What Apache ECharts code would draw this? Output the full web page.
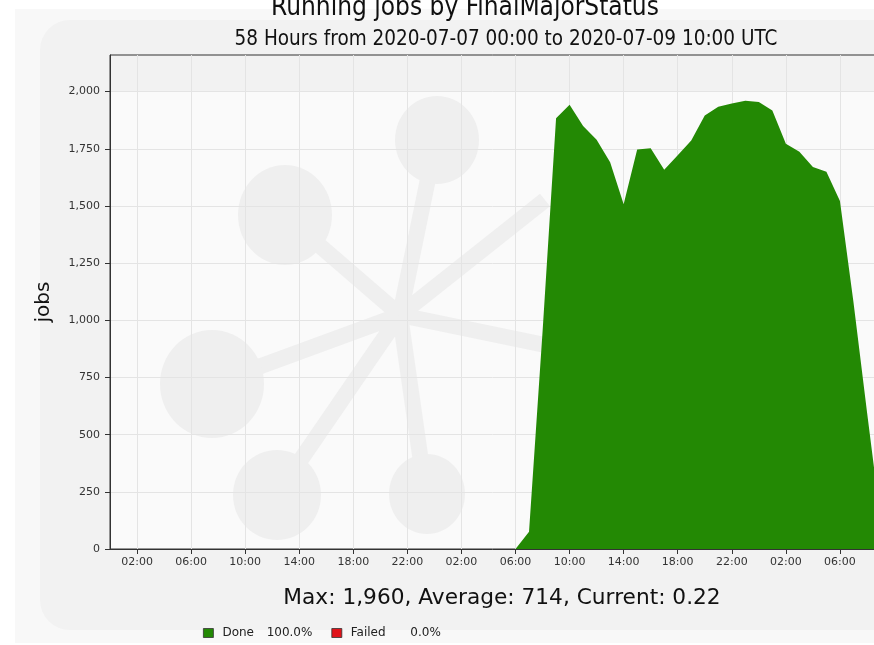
<!DOCTYPE html>
<html>
<head>
<meta charset="utf-8">
<script src="https://cdn.jsdelivr.net/npm/echarts@6/dist/echarts.min.js"></script>
<style>
    html, body { margin: 0; padding: 0; background: #fff; }
    #chart { width: 874px; height: 645px; }
</style>
</head>
<body>
<div id="chart"></div>
<script>
    // hourly bins from 2020-07-07 00:00 to 2020-07-09 10:00 UTC
    var startTime = Date.UTC( 2020, 6, 7, 0, 0 );
    var hourLabels = [];
    for ( var i = 0; i <= 58; i++ ) {
        hourLabels.push( new Date( startTime + i * 3600000 ).toISOString().slice( 0, 16 ).replace( 'T', ' ' ) );
    }

    var doneJobs = [
        0, 0, 0, 0, 0, 0, 0, 0, 0, 0,
        0, 0, 0, 0, 0, 0, 0, 0, 0, 0,
        0, 0, 0, 0, 0, 0, 0, 0, 0, 0,
        0, 75, 950, 1883, 1943, 1850, 1789, 1691, 1507, 1747,
        1752, 1658, 1722, 1786, 1895, 1934, 1948, 1960, 1955, 1917,
        1772, 1737, 1670, 1650, 1522, 1080, 600, 132, 0.22
    ];
    var failedJobs = [
        0, 0, 0, 0, 0, 0, 0, 0, 0, 0,
        0, 0, 0, 0, 0, 0, 0, 0, 0, 0,
        0, 0, 0, 0, 0, 0, 0, 0, 0, 0,
        0, 0, 0, 0, 0, 0, 0, 0, 0, 0,
        0, 0, 0, 0, 0, 0, 0, 0, 0, 0,
        0, 0, 0, 0, 0, 0, 0, 0, 0
    ];
    var jobTicks = [ 0, 250, 500, 750, 1000, 1250, 1500, 1750, 2000 ];
    var seriesNames = [ 'Done', 'Failed' ];
    var seriesShares = [ '100.0%', '0.0%' ];
    var seriesColors = [ '#238904', '#e0131a' ];

    var font = "'DejaVu Sans', sans-serif";
    var condensed = "'DejaVu Sans Condensed', 'DejaVu Sans', sans-serif";
    var logo = '#efefef';

    // ticks every 4 hours starting at 02:00
    function everyFourth( idx ) {
        return idx % 4 === 2;
    }

    const chart = echarts.init( document.getElementById( 'chart' ) );
    chart.setOption( {
        backgroundColor: '#ffffff',
        animation: false,
        title: [ {
            text: 'Running jobs by FinalMajorStatus',
            left: 460,
            top: -10,
            textAlign: 'center',
            textStyle: { fontFamily: condensed, fontSize: 26, fontWeight: 'normal', color: '#111' }
        }, {
            text: '58 Hours from 2020-07-07 00:00 to 2020-07-09 10:00 UTC',
            left: 501,
            top: 24,
            textAlign: 'center',
            textStyle: { fontFamily: condensed, fontSize: 20.5, fontWeight: 'normal', color: '#111' }
        }, {
            text: 'Max: 1,960, Average: 714, Current: 0.22',
            left: 497,
            top: 582,
            textAlign: 'center',
            textStyle: { fontFamily: font, fontSize: 21.7, fontWeight: 'normal', color: '#111' }
        } ],
        legend: {
            left: 198,
            top: 622,
            icon: 'rect',
            itemWidth: 10,
            itemHeight: 9,
            itemGap: 19,
            data: seriesNames,
            itemStyle: { borderColor: '#333', borderWidth: 0.8 },
            formatter: function( name ) {
                return '{n|' + name + '}{p|' + seriesShares[ seriesNames.indexOf( name ) ] + '}';
            },
            textStyle: {
                fontFamily: font,
                fontSize: 12,
                color: '#222',
                rich: {
                    n: { width: 40, padding: [ 0, 0, 0, 4 ], fontFamily: font, fontSize: 12, color: '#222' },
                    p: { width: 50, align: 'right', fontFamily: font, fontSize: 12, color: '#222' }
                }
            }
        },
        graphic: [
            { type: 'rect', z: -20, silent: true, shape: { x: 15, y: 9, width: 880, height: 634 }, style: { fill: '#f8f8f8' } },
            { type: 'rect', z: -19, silent: true, shape: { x: 40, y: 20, width: 900, height: 610, r: 30 }, style: { fill: '#f2f2f2' } },
            { type: 'rect', z: -18, silent: true, shape: { x: 110, y: 92, width: 784, height: 457 }, style: { fill: '#fafafa' } },
            { type: 'line', z: -17, silent: true, shape: { x1: 400, y1: 315, x2: 290, y2: 220 }, style: { stroke: logo, lineWidth: 16 } },
            { type: 'line', z: -17, silent: true, shape: { x1: 400, y1: 315, x2: 435, y2: 145 }, style: { stroke: logo, lineWidth: 16 } },
            { type: 'line', z: -17, silent: true, shape: { x1: 400, y1: 315, x2: 212, y2: 384 }, style: { stroke: logo, lineWidth: 16 } },
            { type: 'line', z: -17, silent: true, shape: { x1: 400, y1: 315, x2: 280, y2: 490 }, style: { stroke: logo, lineWidth: 16 } },
            { type: 'line', z: -17, silent: true, shape: { x1: 400, y1: 315, x2: 425, y2: 490 }, style: { stroke: logo, lineWidth: 16 } },
            { type: 'line', z: -17, silent: true, shape: { x1: 400, y1: 315, x2: 545, y2: 345 }, style: { stroke: logo, lineWidth: 16 } },
            { type: 'line', z: -17, silent: true, shape: { x1: 400, y1: 315, x2: 545, y2: 200 }, style: { stroke: logo, lineWidth: 16 } },
            { type: 'ellipse', z: -17, silent: true, shape: { cx: 285, cy: 215, rx: 47, ry: 50 }, style: { fill: logo } },
            { type: 'ellipse', z: -17, silent: true, shape: { cx: 437, cy: 140, rx: 42, ry: 44 }, style: { fill: logo } },
            { type: 'ellipse', z: -17, silent: true, shape: { cx: 212, cy: 384, rx: 52, ry: 54 }, style: { fill: logo } },
            { type: 'ellipse', z: -17, silent: true, shape: { cx: 277, cy: 495, rx: 44, ry: 45 }, style: { fill: logo } },
            { type: 'ellipse', z: -17, silent: true, shape: { cx: 427, cy: 494, rx: 38, ry: 40 }, style: { fill: logo } }
        ],
        grid: {
            left: 110,
            top: 55,
            width: 784,
            bottom: 96,
            outerBoundsMode: 'none',
            containLabel: false,
            show: true,
            backgroundColor: 'transparent',
            borderColor: '#333',
            borderWidth: 1
        },
        xAxis: {
            type: 'category',
            data: hourLabels,
            boundaryGap: false,
            axisLine: { lineStyle: { color: '#333', width: 1 } },
            axisTick: { interval: everyFourth, length: 5, lineStyle: { color: '#333' } },
            axisLabel: {
                interval: everyFourth,
                formatter: function( v ) { return v.slice( 11 ); },
                fontFamily: font,
                fontSize: 11,
                color: '#333',
                margin: 8
            },
            splitLine: { show: true, interval: everyFourth, lineStyle: { color: '#e4e4e4' } }
        },
        yAxis: {
            type: 'value',
            min: 0,
            max: 2160,
            interval: 250,
            name: 'jobs',
            nameLocation: 'middle',
            nameGap: 56,
            nameTextStyle: { fontFamily: font, fontSize: 20, color: '#111' },
            axisLine: { show: true, lineStyle: { color: '#333', width: 1 } },
            axisTick: { show: true, length: 5, customValues: jobTicks, lineStyle: { color: '#333' } },
            axisLabel: {
                customValues: jobTicks,
                formatter: function( v ) { return v.toLocaleString( 'en-US' ); },
                fontFamily: font,
                fontSize: 11,
                color: '#333',
                margin: 10
            },
            splitLine: { lineStyle: { color: '#e4e4e4' } }
        },
        series: [ {
            name: seriesNames[ 0 ],
            type: 'line',
            stack: 'jobs',
            data: doneJobs,
            symbol: 'none',
            lineStyle: { width: 0 },
            itemStyle: { color: seriesColors[ 0 ] },
            areaStyle: { color: seriesColors[ 0 ], opacity: 1 }
        }, {
            name: seriesNames[ 1 ],
            type: 'line',
            stack: 'jobs',
            data: failedJobs,
            symbol: 'none',
            lineStyle: { width: 0 },
            itemStyle: { color: seriesColors[ 1 ] },
            areaStyle: { color: seriesColors[ 1 ], opacity: 1 }
        } ]
    } );
</script>
</body>
</html>
